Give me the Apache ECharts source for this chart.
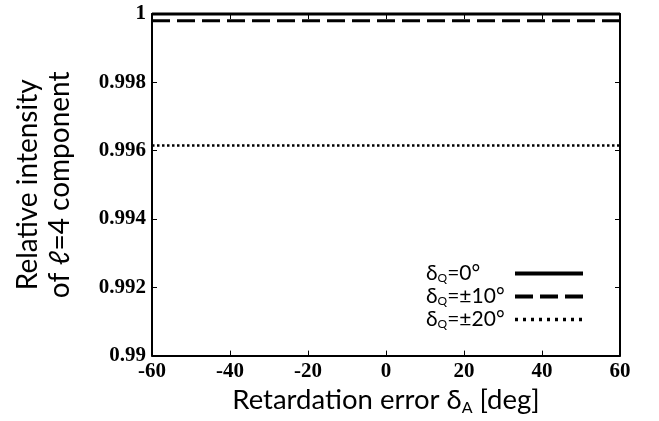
<!DOCTYPE html>
<html><head><meta charset="utf-8">
<script src="https://cdn.jsdelivr.net/npm/echarts@6/dist/echarts.min.js"></script>
<style>html,body{margin:0;padding:0;background:#fff}#c{width:659px;height:421px}</style>
</head><body><div id="c"></div>
<script>
const xValues = [-60, -40, -20, 0, 20, 40, 60];
const seriesNames = ['dq0', 'dq10', 'dq20'];
const legendLabels = {dq0: '=0°', dq10: '=±10°', dq20: '=±20°'};
const values0 = [1, 1, 1, 1, 1, 1, 1];
const values10 = [0.9998, 0.9998, 0.9998, 0.9998, 0.9998, 0.9998, 0.9998];
const values20 = [0.99615, 0.99615, 0.99615, 0.99615, 0.99615, 0.99615, 0.99615];
const yTicks = {min: 0.99, max: 1, interval: 0.002};
const xTicks = {min: -60, max: 60, interval: 20};

const SANS = 'Lato, "Open Sans", "DejaVu Sans", sans-serif';
const SERIF = '"Liberation Serif", "DejaVu Serif", serif';
const tickLbl = {fontFamily: SERIF, fontWeight: 'bold', fontSize: 21, color: '#000'};
const axLine = {onZero: false, lineStyle: {color: '#000', width: 2}};
const axTick = {inside: true, length: 5, lineStyle: {color: '#000', width: 1}};

const toPairs = v => xValues.map((x, i) => [x, v[i]]);

const chart = echarts.init(document.getElementById('c'), null, {renderer: 'canvas'});
chart.setOption({
  animation: false,
  grid: {left: 152, right: 39, top: 14, bottom: 64, containLabel: false},
  xAxis: [{
    type: 'value', min: xTicks.min, max: xTicks.max, interval: xTicks.interval,
    position: 'bottom', splitLine: {show: false},
    axisLine: axLine, axisTick: axTick,
    axisLabel: Object.assign({margin: 5}, tickLbl),
    name: '{n|Retardation error δ}{s|A}{n| [deg]}', nameLocation: 'middle', nameGap: 23,
    nameTextStyle: {rich: {
      n: {fontFamily: SANS, fontSize: 27.5, color: '#000'},
      s: {fontFamily: SANS, fontSize: 16, color: '#000', padding: [15, 0, 0, 0]}
    }}
  }, {
    type: 'value', min: xTicks.min, max: xTicks.max, interval: xTicks.interval,
    position: 'top', splitLine: {show: false},
    axisLine: axLine, axisTick: axTick, axisLabel: {show: false}
  }],
  yAxis: [{
    type: 'value', min: yTicks.min, max: yTicks.max, interval: yTicks.interval,
    position: 'left', splitLine: {show: false},
    axisLine: axLine, axisTick: axTick,
    axisLabel: Object.assign({margin: 6}, tickLbl),
    name: 'Relative intensity\nof ℓ=4 component', nameLocation: 'middle', nameGap: 76, nameRotate: 90,
    nameTextStyle: {fontFamily: SANS, fontSize: 28, color: '#000', lineHeight: 32, align: 'center'}
  }, {
    type: 'value', min: yTicks.min, max: yTicks.max, interval: yTicks.interval,
    position: 'right', splitLine: {show: false},
    axisLine: axLine, axisTick: axTick, axisLabel: {show: false}
  }],
  legend: {
    orient: 'vertical', right: 74, top: 263, padding: 0,
    align: 'right', itemWidth: 68, itemHeight: 14, itemGap: 1.5,
    data: [
      {name: seriesNames[0]},
      {name: seriesNames[1]},
      {name: seriesNames[2], lineStyle: {width: 3.5, type: [3, 5]}}
    ],
    lineStyle: {width: 4},
    itemStyle: {opacity: 0},
    formatter: n => '{d|δ}{q|Q}{d|' + legendLabels[n] + '}',
    textStyle: {
      width: 84,
      rich: {
        d: {fontFamily: SANS, fontSize: 21, lineHeight: 22, color: '#000', align: 'left'},
        q: {fontFamily: SANS, fontSize: 12, color: '#000', align: 'left', verticalAlign: 'bottom'}
      }
    }
  },
  series: [
    {name: seriesNames[0], type: 'line', data: toPairs(values0), symbol: 'none', clip: false,
     itemStyle: {color: '#000', opacity: 0},
     lineStyle: {color: '#000', width: 3, type: 'solid'}},
    {name: seriesNames[1], type: 'line', data: toPairs(values10), symbol: 'none', clip: false,
     itemStyle: {color: '#000', opacity: 0},
     lineStyle: {color: '#000', width: 3, type: [18, 7]}},
    {name: seriesNames[2], type: 'line', data: toPairs(values20), symbol: 'none', clip: false,
     itemStyle: {color: '#000', opacity: 0},
     lineStyle: {color: '#000', width: 2.5, type: [2.5, 2.5]}}
  ]
});
</script></body></html>
